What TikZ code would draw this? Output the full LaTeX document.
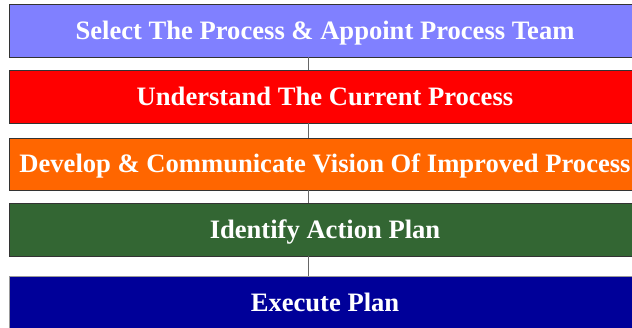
\documentclass[tikz,border=0pt]{standalone}
\usepackage{fontspec}
\setmainfont{Liberation Serif}
\usetikzlibrary{positioning}

\definecolor{selblue}{HTML}{8080FF}
\definecolor{undred}{HTML}{FF0000}
\definecolor{devorange}{HTML}{FF6600}
\definecolor{actgreen}{HTML}{336633}
\definecolor{exenavy}{HTML}{000099}

\begin{document}
\begin{tikzpicture}[x=0.03cm, y=0.03cm,
	stage/.style={rectangle, draw=black!80, line width=0.6pt, inner sep=0pt,
		minimum width=18.96cm, minimum height=1.59cm, text=white,
		text height=15pt, text depth=0pt,
		font=\bfseries\fontsize{22.7}{26}\selectfont},
	link/.style={draw=black!60, line width=0.6pt}]
	\useasboundingbox (0, 0) rectangle (632, -327);

	\node[stage, fill=selblue] (select) at (325, -30.5) {Select The Process \& Appoint Process Team};
	\node[stage, fill=undred] (understand) at (325, -96.5) {Understand The Current Process};
	\node[stage, fill=devorange, minimum height=1.56cm] (develop) at (325, -164) {Develop \& Communicate Vision Of Improved Process};
	\node[stage, fill=actgreen] (identify) at (325, -229.5) {Identify Action Plan};
	\node[stage, fill=exenavy, draw=black!40] (execute) at (325, -302.5) {Execute Plan};

	% vertical spine joining the stages
	\coordinate (spine) at (308, 0);
	\draw[link] (select.south -| spine) -- (understand.north -| spine);
	\draw[link] (understand.south -| spine) -- (develop.north -| spine);
	\draw[link] (develop.south -| spine) -- (identify.north -| spine);
	\draw[link] (identify.south -| spine) -- (execute.north -| spine);
\end{tikzpicture}
\end{document}
